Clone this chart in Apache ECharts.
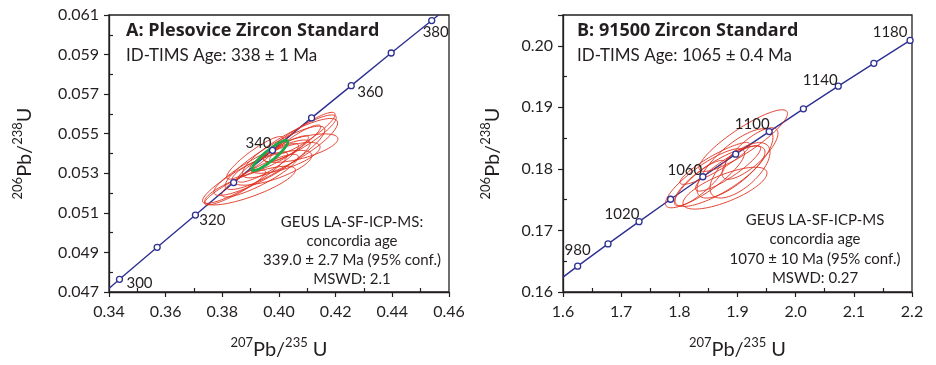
<!DOCTYPE html>
<html>
<head>
<meta charset="utf-8">
<script src="https://cdn.jsdelivr.net/npm/echarts@6/dist/echarts.min.js"></script>
<style>
  html, body { margin: 0; padding: 0; background: #fff; }
  #chart { width: 936px; height: 365px; }
</style>
</head>
<body>
<div id="chart"></div>
<script>
// ---- A: Plesovice (concordia ticks) ----
const plesAges = [300, 310, 320, 330, 340, 350, 360, 370, 380];
const plesConcX = [0.3437, 0.3570, 0.3705, 0.3840, 0.3977, 0.4115, 0.4255, 0.4396, 0.4539];
const plesConcY = [0.04764, 0.04926, 0.05089, 0.05253, 0.05416, 0.05580, 0.05743, 0.05908, 0.06072];
const plesLabelAges = [300, 320, 340, 360, 380];
const plesLineX = [0.3400, 0.3437, 0.3570, 0.3705, 0.3840, 0.3977, 0.4115, 0.4255, 0.4396, 0.4539, 0.4563];
const plesLineY = [0.04718, 0.04764, 0.04926, 0.05089, 0.05253, 0.05416, 0.05580, 0.05743, 0.05908, 0.06072, 0.0610];

// red error ellipses: centre, half-width in x, half-height in y, correlation
const plesEllX = [0.3880, 0.3898, 0.3940, 0.3986, 0.4039, 0.4074, 0.4092, 0.3961, 0.4004, 0.4021, 0.3933, 0.4057, 0.3975, 0.3845, 0.4074, 0.3915];
const plesEllY = [0.05278, 0.05238, 0.05328, 0.05378, 0.05427, 0.05477, 0.05502, 0.05353, 0.05402, 0.05378, 0.05288, 0.05452, 0.05328, 0.05228, 0.05427, 0.05378];
const plesEllSx = [0.0150, 0.0160, 0.0170, 0.0176, 0.0168, 0.0128, 0.0106, 0.0108, 0.0100, 0.0124, 0.0135, 0.0090, 0.0141, 0.0108, 0.0134, 0.0100];
const plesEllSy = [0.00130, 0.00098, 0.00140, 0.00160, 0.00150, 0.00118, 0.00106, 0.00098, 0.00088, 0.00078, 0.00108, 0.00092, 0.00088, 0.00088, 0.00072, 0.00108];
const plesEllRho = [0.9, 0.8, 0.88, 0.88, 0.85, 0.88, 0.9, 0.88, 0.9, 0.7, 0.88, 0.9, 0.7, 0.9, 0.65, 0.9];
// green concordia-age ellipse
const plesMeanX = [0.3968];
const plesMeanY = [0.05390];
const plesMeanSx = [0.0063];
const plesMeanSy = [0.00076];
const plesMeanRho = [0.9];

// ---- B: 91500 ----
const stdAges = [980, 1000, 1020, 1040, 1060, 1080, 1100, 1120, 1140, 1160, 1180];
const stdConcX = [1.6252, 1.6774, 1.7307, 1.7850, 1.8404, 1.8969, 1.9545, 2.0133, 2.0732, 2.1344, 2.1967];
const stdConcY = [0.16420, 0.16781, 0.17143, 0.17507, 0.17872, 0.18239, 0.18606, 0.18975, 0.19344, 0.19715, 0.20087];
const stdLabelAges = [980, 1020, 1060, 1100, 1140, 1180];
const stdLineX = [1.6000, 1.6252, 1.6774, 1.7307, 1.7850, 1.8404, 1.8969, 1.9545, 2.0133, 2.0732, 2.1344, 2.1967, 2.2000];
const stdLineY = [0.16242, 0.16420, 0.16781, 0.17143, 0.17507, 0.17872, 0.18239, 0.18606, 0.18975, 0.19344, 0.19715, 0.20087, 0.20106];

const stdEllX = [1.9100, 1.8441, 1.8699, 1.8957, 1.8837, 1.8613, 1.9043, 1.8355, 1.8785, 1.9215];
const stdEllY = [0.18460, 0.17848, 0.17880, 0.18089, 0.18009, 0.18089, 0.17977, 0.17768, 0.17687, 0.18250];
const stdEllSx = [0.0760, 0.0680, 0.0774, 0.0653, 0.0560, 0.0602, 0.0516, 0.0440, 0.0722, 0.0481];
const stdEllSy = [0.00500, 0.00480, 0.00490, 0.00563, 0.00370, 0.00340, 0.00450, 0.00370, 0.00340, 0.00418];
const stdEllRho = [0.88, 0.85, 0.8, 0.75, 0.88, 0.9, 0.65, 0.85, 0.72, 0.78];

const FONT = 'Lato, "Open Sans", sans-serif';
const INK = '#231f20';
const BLUE = '#2e3192';
const RED = '#e0301e';
const GREEN = '#1fa84a';

const zip = (xs, ys) => xs.map((x, i) => [x, ys[i]]);
const ellRows = (xs, ys, sx, sy, r) => xs.map((x, i) => [x, ys[i], sx[i], sy[i], r[i]]);

function ellipseSeries(rows, xi, color, width, z) {
  return {
    type: 'custom',
    xAxisIndex: xi,
    yAxisIndex: xi,
    z: z,
    silent: true,
    clip: true,
    dimensions: ['x', 'y', 'sx', 'sy', 'rho'],
    encode: { x: 0, y: 1 },
    data: rows,
    renderItem: (params, api) => {
      const cx = api.value(0), cy = api.value(1);
      const sx = api.value(2), sy = api.value(3), rho = api.value(4);
      const k = Math.sqrt(1 - rho * rho);
      const pts = [];
      for (let i = 0; i < 96; i++) {
        const t = (i / 96) * Math.PI * 2;
        pts.push(api.coord([cx + sx * Math.cos(t), cy + sy * (rho * Math.cos(t) + k * Math.sin(t))]));
      }
      return {
        type: 'polygon',
        shape: { points: pts },
        style: { fill: 'none', stroke: color, lineWidth: width }
      };
    }
  };
}

function markerSeries(ages, xs, ys, labelAges, offsets, xi) {
  return {
    type: 'scatter',
    xAxisIndex: xi,
    yAxisIndex: xi,
    z: 6,
    silent: true,
    symbol: 'circle',
    symbolSize: 6,
    itemStyle: { color: '#fff', borderColor: BLUE, borderWidth: 1.3, opacity: 1 },
    label: { color: INK, textBorderWidth: 0, fontFamily: FONT, fontSize: 15 },
    data: ages.map((a, i) => {
      const show = labelAges.includes(a);
      return {
        value: [xs[i], ys[i]],
        label: show ? {
          show: true,
          formatter: String(a),
          position: 'inside',
          offset: offsets[a],
          color: INK,
          textBorderWidth: 0,
          fontFamily: FONT,
          fontSize: 15
        } : { show: false }
      };
    })
  };
}

function lineSeries(xs, ys, xi) {
  return {
    type: 'line',
    xAxisIndex: xi,
    yAxisIndex: xi,
    z: 1,
    silent: true,
    showSymbol: false,
    data: zip(xs, ys),
    lineStyle: { color: BLUE, width: 1.4 }
  };
}

const axisCommon = {
  type: 'value',
  axisLine: { show: true, onZero: false, lineStyle: { color: INK, width: 1.3 } },
  axisTick: { show: true, inside: false, length: 5, lineStyle: { color: INK, width: 1.2 } },
  minorTick: { show: true, splitNumber: 2, length: -4, lineStyle: { color: INK, width: 1.2 } },
  splitLine: { show: false },
  minorSplitLine: { show: false },
  axisLabel: { color: INK, fontFamily: FONT, fontSize: 16, margin: 10 }
};

const nameRich = {
  sup: { fontSize: 13, fontFamily: FONT, color: INK, verticalAlign: 'top', lineHeight: 24 },
  b: { fontSize: 20, fontFamily: FONT, color: INK, verticalAlign: 'bottom', lineHeight: 24 }
};
const xName = '{sup|207}{b|Pb/}{sup|235}{b| U}';
const yName = '{sup|206}{b|Pb/}{sup|238}{b|U}';

const TITLE_FONT = 'bold 18px "Open Sans", Lato, sans-serif';

const option = {
  animation: false,
  backgroundColor: '#fff',
  grid: [
    { left: 109, top: 15, width: 340, height: 281, show: true, borderColor: INK, borderWidth: 1.3, backgroundColor: 'transparent' },
    { left: 563, top: 15, width: 349, height: 280, show: true, borderColor: INK, borderWidth: 1.3, backgroundColor: 'transparent' }
  ],
  xAxis: [
    Object.assign({}, axisCommon, {
      gridIndex: 0, min: 0.34, max: 0.46, interval: 0.02,
      axisLabel: Object.assign({}, axisCommon.axisLabel, { margin: 12, formatter: v => v.toFixed(2) }),
      name: xName, nameLocation: 'middle', nameGap: 44,
      nameTextStyle: { rich: nameRich }
    }),
    Object.assign({}, axisCommon, {
      gridIndex: 1, min: 1.6, max: 2.2, interval: 0.1,
      axisLabel: Object.assign({}, axisCommon.axisLabel, { margin: 12, formatter: v => v.toFixed(1) }),
      name: xName, nameLocation: 'middle', nameGap: 44,
      nameTextStyle: { rich: nameRich }
    })
  ],
  yAxis: [
    Object.assign({}, axisCommon, {
      gridIndex: 0, min: 0.047, max: 0.061, interval: 0.002,
      axisLabel: Object.assign({}, axisCommon.axisLabel, { formatter: v => v.toFixed(3) }),
      name: yName, nameLocation: 'middle', nameGap: 74, nameRotate: 90,
      nameTextStyle: { rich: nameRich }
    }),
    Object.assign({}, axisCommon, {
      gridIndex: 1, min: 0.16, max: 0.205, interval: 0.01,
      axisLabel: Object.assign({}, axisCommon.axisLabel, { showMaxLabel: false, formatter: v => v.toFixed(2) }),
      name: yName, nameLocation: 'middle', nameGap: 60, nameRotate: 90,
      nameTextStyle: { rich: nameRich }
    })
  ],
  series: [
    lineSeries(plesLineX, plesLineY, 0),
    ellipseSeries(ellRows(plesEllX, plesEllY, plesEllSx, plesEllSy, plesEllRho), 0, RED, 0.9, 2),
    ellipseSeries(ellRows(plesMeanX, plesMeanY, plesMeanSx, plesMeanSy, plesMeanRho), 0, GREEN, 2.8, 4),
    markerSeries(plesAges, plesConcX, plesConcY, plesLabelAges,
      { 300: [20, 4], 320: [17, 5], 340: [-14, -7], 360: [19, 7], 380: [4, 12] }, 0),

    lineSeries(stdLineX, stdLineY, 1),
    ellipseSeries(ellRows(stdEllX, stdEllY, stdEllSx, stdEllSy, stdEllRho), 1, RED, 0.9, 2),
    markerSeries(stdAges, stdConcX, stdConcY, stdLabelAges,
      { 980: [0, -16], 1020: [-17, -7], 1060: [-18, -7], 1100: [-17, -7], 1140: [-18, -6], 1180: [-20, -8] }, 1)
  ],
  graphic: [
    { type: 'text', left: 126, top: 22, style: { text: 'A: Plesovice Zircon Standard', font: TITLE_FONT, fill: INK } },
    { type: 'text', left: 126, top: 47, style: { text: 'ID-TIMS Age: 338 ± 1 Ma', font: '17px ' + FONT, fill: INK } },
    { type: 'text', left: 577, top: 22, style: { text: 'B: 91500 Zircon Standard', font: TITLE_FONT, fill: INK } },
    { type: 'text', left: 577, top: 47, style: { text: 'ID-TIMS Age: 1065 ± 0.4 Ma', font: '17px ' + FONT, fill: INK } },

    { type: 'text', x: 352, y: 222, style: { text: 'GEUS LA-SF-ICP-MS:', font: '15px ' + FONT, fill: INK, textAlign: 'center', textVerticalAlign: 'middle' } },
    { type: 'text', x: 352, y: 241, style: { text: 'concordia age', font: '15px ' + FONT, fill: INK, textAlign: 'center', textVerticalAlign: 'middle' } },
    { type: 'text', x: 352, y: 260, style: { text: '339.0 ± 2.7 Ma (95% conf.)', font: '15px ' + FONT, fill: INK, textAlign: 'center', textVerticalAlign: 'middle' } },
    { type: 'text', x: 352, y: 279, style: { text: 'MSWD: 2.1', font: '15px ' + FONT, fill: INK, textAlign: 'center', textVerticalAlign: 'middle' } },

    { type: 'text', x: 815, y: 220, style: { text: 'GEUS LA-SF-ICP-MS', font: '15px ' + FONT, fill: INK, textAlign: 'center', textVerticalAlign: 'middle' } },
    { type: 'text', x: 815, y: 239, style: { text: 'concordia age', font: '15px ' + FONT, fill: INK, textAlign: 'center', textVerticalAlign: 'middle' } },
    { type: 'text', x: 815, y: 259, style: { text: '1070 ± 10 Ma (95% conf.)', font: '15px ' + FONT, fill: INK, textAlign: 'center', textVerticalAlign: 'middle' } },
    { type: 'text', x: 815, y: 278, style: { text: 'MSWD: 0.27', font: '15px ' + FONT, fill: INK, textAlign: 'center', textVerticalAlign: 'middle' } }
  ]
};

const chart = echarts.init(document.getElementById('chart'), null, { renderer: 'canvas' });
chart.setOption(option);
window.addEventListener('resize', () => chart.resize());
</script>
</body>
</html>
